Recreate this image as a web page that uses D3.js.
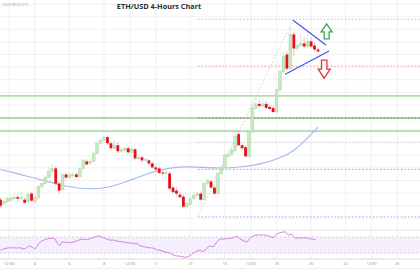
<!DOCTYPE html>
<html>
<head>
<meta charset="utf-8">
<script src="https://cdn.jsdelivr.net/npm/d3@7"></script>
<style>
  body { margin: 0; background: #fff; }
  svg { display: block; font-family: "Open Sans", "DejaVu Sans", sans-serif; }
</style>
</head>
<body>
<div id="chart"></div>
<script>

// 4h candles, [open, high, low, close]
const candles = [
  [1602,1606,1586,1590],[1594,1602,1590,1598],[1598,1608,1596,1604],[1600,1610,1598,1605],
  [1604,1614,1602,1607],[1607,1612,1600,1604],[1604,1617,1600,1606],[1602,1606,1594,1596],
  [1598,1616,1596,1612],[1614,1618,1598,1600],[1598,1612,1594,1606],[1606,1632,1602,1628],
  [1628,1638,1624,1634],[1634,1650,1632,1646],[1646,1668,1644,1658],[1658,1672,1656,1664],
  [1664,1668,1630,1634],[1634,1638,1614,1620],[1622,1656,1618,1652],[1652,1656,1642,1646],
  [1646,1656,1644,1651],[1650,1658,1646,1652],[1652,1656,1644,1647],[1648,1668,1646,1664],
  [1664,1684,1662,1680],[1678,1682,1670,1672],[1674,1684,1672,1678],[1678,1698,1676,1694],
  [1694,1718,1692,1714],[1714,1724,1710,1720],[1720,1730,1716,1726],[1726,1730,1710,1714],
  [1714,1718,1700,1704],[1704,1720,1700,1710],[1710,1716,1694,1698],[1698,1706,1694,1702],
  [1700,1708,1696,1704],[1704,1708,1692,1696],[1696,1708,1694,1702],[1702,1704,1680,1684],
  [1684,1690,1680,1686],[1686,1690,1676,1680],[1680,1686,1678,1682],[1680,1682,1670,1674],
  [1674,1678,1664,1666],[1666,1670,1658,1662],[1664,1668,1652,1655],[1656,1660,1650,1654],
  [1654,1664,1650,1656],[1654,1658,1620,1624],[1626,1630,1614,1617],[1620,1626,1610,1614],
  [1612,1616,1604,1607],[1608,1612,1586,1588],[1588,1600,1584,1594],[1592,1608,1590,1604],
  [1604,1616,1600,1610],[1610,1618,1606,1614],[1614,1618,1600,1602],[1602,1638,1600,1634],
  [1634,1644,1630,1640],[1638,1642,1624,1626],[1626,1630,1612,1614],[1614,1658,1612,1654],
  [1654,1670,1650,1666],[1666,1694,1664,1690],[1688,1700,1684,1692],[1692,1706,1688,1700],
  [1700,1736,1696,1728],[1732,1738,1708,1710],[1710,1714,1700,1704],[1706,1710,1686,1688],
  [1688,1740,1686,1736],[1736,1800,1734,1784],[1784,1804,1780,1792],[1792,1800,1784,1788],
  [1788,1804,1786,1792],[1792,1798,1782,1784],[1786,1790,1778,1782],[1784,1788,1774,1776],
  [1776,1824,1774,1820],[1820,1860,1816,1856],[1856,1894,1852,1886],[1890,1896,1858,1862],
  [1862,1944,1860,1930],[1930,1936,1888,1902],[1902,1920,1896,1908],[1908,1930,1904,1912],
  [1912,1924,1902,1906],[1906,1934,1902,1916],[1916,1924,1904,1906],[1908,1914,1896,1900],
  [1900,1904,1894,1896]
];

// moving average, [candle index, price]
const smaPoints = [
  [0,1662],[5.7,1652],[12.9,1640],[18.7,1628],[26,1622],[31.7,1626],[37.5,1640],
  [43.3,1656],[49.1,1666],[54.9,1668],[62.2,1664],[69.4,1666],[75.2,1672],[81,1684],
  [85.4,1700],[88.3,1720],[92,1746]
];

// RSI, [candle index, value]
const rsiPoints = [
  [0,37],[0.8,40],[2.3,43],[3.7,43],[4.7,42.5],[5.7,43],[7.1,40],[8.1,48],[9,45],[10,40],
  [11,52.5],[11.9,60],[13.4,65],[14.3,67],[15.3,67],[15.8,65],[16.5,54],[17.2,48],[17.7,57],
  [19.2,57],[20.6,56],[22.1,60],[23.5,65],[25,63],[26.4,67],[27.9,72],[28.8,72.5],[29.8,68],
  [30.8,65],[31.7,62],[32.7,62.5],[33.7,60],[35.1,58],[36.6,56],[38.5,54],[39.5,54],[40.4,48],
  [41.9,45],[43.3,43],[44.3,42],[45.3,38],[46.2,37],[47.7,32],[49.1,30],[50.6,23],[52,22],
  [53.5,19],[54.4,21],[55.4,27],[56.9,35],[57.8,37],[58.8,33],[59.8,42],[60.7,48],[61.7,45],
  [62.7,58],[63.6,65],[65.1,65],[66.5,67],[67.5,68],[68.5,73],[69.4,65],[71.4,57],[72.3,67],
  [73.3,73],[74.3,75],[76.2,75],[77.6,73],[79.1,68],[80.1,78],[81.5,82],[82.5,83],[83.4,75],
  [84.4,77],[85.4,67],[86.8,68],[88.3,68],[89.2,67],[90.2,65],[91.4,62.5]
];

const supportLevels = [1808, 1764, 1738];
const fibLevels = [1960, 1867, 1764, 1716, 1662, 1568];
const fibStart = 57.2;
const fibTrend = [[57.2, 1568], [84.8, 1960]];
const triangleUpper = [[84.8, 1958], [94.3, 1909]];
const triangleLower = [[82.5, 1851], [95.2, 1897]];
const upArrow = { i: 94.5, tip: 1951, base: 1921 };
const downArrow = { i: 93.8, top: 1879, tip: 1843 };
const rsiBand = [70, 30];

const tickIndex = [2.5, 10, 20, 30, 37.5, 45, 55, 65, 72.5, 80, 90, 100, 107.5, 115];
const tickLabels = ['12:00', '4', '6', '8', '12:00', '11', '13', '15', '12:00', '18', '20', '22', '12:00', '25'];

const title = 'ETH/USD 4-Hours Chart';
const stamp = ', 2023 08:02 UTC';

const width = 420;
const height = 280;

const svg = d3.select('#chart')
    .append('svg')
    .attr('width', width)
    .attr('height', height);

const x = d3.scaleLinear().domain([0, 92]).range([0.5, 318]);
const y = d3.scaleLinear().domain([2000, 1440]).range([-0.9, 281.3]);
const yRsi = d3.scaleLinear().domain([30, 70]).range([253, 237]);

// grid
const grid = svg.append('g');
grid.selectAll('line.h')
    .data(d3.range(1990, 1560, -25))
    .join('line')
    .attr('x1', 0).attr('x2', width)
    .attr('y1', d => y(d)).attr('y2', d => y(d))
    .attr('stroke', '#eeeeee').attr('stroke-width', 0.8);

grid.selectAll('line.v')
    .data(tickIndex)
    .join('line')
    .attr('x1', d => x(d)).attr('x2', d => x(d))
    .attr('y1', 0).attr('y2', 259)
    .attr('stroke', '#eeeeee').attr('stroke-width', 0.8);

// rsi pane
svg.append('line')
    .attr('x1', 0).attr('x2', width).attr('y1', 230).attr('y2', 230)
    .attr('stroke', '#e4e4e4');

svg.append('rect')
    .attr('x', 0).attr('width', width)
    .attr('y', yRsi(rsiBand[0]))
    .attr('height', yRsi(rsiBand[1]) - yRsi(rsiBand[0]))
    .attr('fill', '#f5eefc');

svg.selectAll('line.band')
    .data(rsiBand)
    .join('line')
    .attr('x1', 0).attr('x2', width)
    .attr('y1', d => yRsi(d)).attr('y2', d => yRsi(d))
    .attr('stroke', '#cfc4d8').attr('stroke-width', 0.8)
    .attr('stroke-dasharray', '2,2');

svg.append('path')
    .datum(rsiPoints)
    .attr('d', d3.line().x(d => x(d[0])).y(d => yRsi(d[1])))
    .attr('fill', 'none')
    .attr('stroke', '#cf8ad6')
    .attr('stroke-width', 1);

// x axis
svg.append('line')
    .attr('x1', 0).attr('x2', width).attr('y1', 259).attr('y2', 259)
    .attr('stroke', '#d8d8d8');
svg.append('line')
    .attr('x1', 0).attr('x2', width).attr('y1', 268.5).attr('y2', 268.5)
    .attr('stroke', '#efefef');

svg.selectAll('text.tick')
    .data(tickIndex)
    .join('text')
    .attr('x', d => x(d))
    .attr('y', 265)
    .attr('text-anchor', 'middle')
    .attr('font-size', 4)
    .attr('fill', '#8a8a8a')
    .text((d, i) => tickLabels[i]);

// support lines
svg.selectAll('line.support')
    .data(supportLevels)
    .join('line')
    .attr('x1', 0).attr('x2', width)
    .attr('y1', d => y(d)).attr('y2', d => y(d))
    .attr('stroke', '#93cf8b').attr('stroke-width', 1.4);

// fib levels
const fibColors = ['#bdbdbd', '#f08a8a', '#6b6b6b', '#cfcfcf', '#f07c7c', '#8fa8ee'];
svg.selectAll('line.fib')
    .data(fibLevels)
    .join('line')
    .attr('x1', x(fibStart)).attr('x2', width)
    .attr('y1', d => y(d)).attr('y2', d => y(d))
    .attr('stroke', (d, i) => fibColors[i])
    .attr('stroke-width', 0.9)
    .attr('stroke-dasharray', '1.5,2');

svg.append('path')
    .datum(fibTrend)
    .attr('d', d3.line().x(d => x(d[0])).y(d => y(d[1])))
    .attr('stroke', '#c4c4c4')
    .attr('stroke-width', 0.8)
    .attr('stroke-dasharray', '1.5,2');

// moving average
svg.append('path')
    .datum(smaPoints)
    .attr('d', d3.line().curve(d3.curveBasis).x(d => x(d[0])).y(d => y(d[1])))
    .attr('fill', 'none')
    .attr('stroke', '#a3b9ee')
    .attr('stroke-width', 1.1);

// candles
const bars = svg.append('g')
    .selectAll('g')
    .data(candles)
    .join('g');

bars.append('line')
    .attr('x1', (d, i) => x(i)).attr('x2', (d, i) => x(i))
    .attr('y1', d => y(d[1])).attr('y2', d => y(d[2]))
    .attr('stroke', d => d[3] >= d[0] ? '#cfdcca' : '#e89a9a')
    .attr('stroke-width', 0.7);

bars.append('rect')
    .attr('x', (d, i) => x(i) - 1.4)
    .attr('width', 2.8)
    .attr('y', d => y(Math.max(d[0], d[3])))
    .attr('height', d => Math.max(0.8, Math.abs(y(d[0]) - y(d[3]))))
    .attr('fill', d => d[3] >= d[0] ? '#c9e7c1' : '#e3121c')
    .attr('stroke', d => d[3] >= d[0] ? '#aad7a2' : 'none')
    .attr('stroke-width', 0.5);

// triangle
svg.selectAll('path.tri')
    .data([triangleUpper, triangleLower])
    .join('path')
    .attr('d', d3.line().x(d => x(d[0])).y(d => y(d[1])))
    .attr('stroke', '#3d55f0')
    .attr('stroke-width', 1.2);

// arrows
const ux = x(upArrow.i), ut = y(upArrow.tip), ub = y(upArrow.base);
svg.append('path')
    .attr('d', `M${ux},${ut} L${ux + 5.5},${ut + 8} L${ux + 2.5},${ut + 8} L${ux + 2.5},${ub} L${ux - 2.5},${ub} L${ux - 2.5},${ut + 8} L${ux - 5.5},${ut + 8} Z`)
    .attr('fill', '#fff')
    .attr('stroke', '#2fae45')
    .attr('stroke-width', 1.3)
    .attr('stroke-linejoin', 'miter');

const dx = x(downArrow.i), dtop = y(downArrow.top), dtip = y(downArrow.tip);
svg.append('path')
    .attr('d', `M${dx},${dtip} L${dx + 6},${dtip - 9} L${dx + 2.7},${dtip - 9} L${dx + 2.7},${dtop} L${dx - 2.7},${dtop} L${dx - 2.7},${dtip - 9} L${dx - 6},${dtip - 9} Z`)
    .attr('fill', '#fff')
    .attr('stroke', '#e5333b')
    .attr('stroke-width', 1.3);

// header
svg.append('text')
    .attr('x', 159).attr('y', 8.5)
    .attr('text-anchor', 'middle')
    .attr('font-size', 7.3)
    .attr('font-weight', 'bold')
    .attr('fill', '#2b2b2b')
    .text(title);

svg.append('text')
    .attr('x', 0.5).attr('y', 5.5)
    .attr('font-size', 3.6)
    .attr('fill', '#9a9a9a')
    .text(stamp);

</script>
</body>
</html>
